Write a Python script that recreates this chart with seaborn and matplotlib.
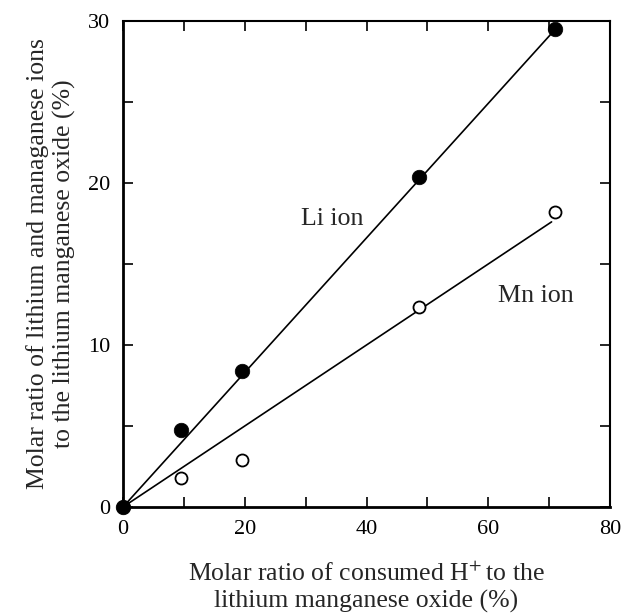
import matplotlib
matplotlib.use("Agg")
import matplotlib.pyplot as plt
from matplotlib.ticker import MultipleLocator, FixedLocator
import seaborn as sns
import pandas as pd

# data
x_h = [0, 9.6, 19.6, 48.6, 71.0]
li_ratio = [0, 4.75, 8.4, 20.4, 29.5]
mn_ratio = [0, 1.8, 2.9, 12.35, 18.2]
li_fit_x = [0, 70.8]
li_fit_y = [0, 29.4]
mn_fit_x = [0, 70.4]
mn_fit_y = [0, 17.6]
x_ticks = [0, 20, 40, 60, 80]
y_ticks = [0, 10, 20, 30]

sns.set_style("ticks")
plt.rcParams['font.family'] = ['Liberation Serif', 'DejaVu Serif']
plt.rcParams['mathtext.fontset'] = 'stix'

fig = plt.figure(figsize=(6.28, 6.15), dpi=100)
ax = fig.add_axes([123/628, 1 - 507/615, (610-123)/628, (507-21)/615])

fit_li = pd.DataFrame({"x": li_fit_x, "y": li_fit_y})
fit_mn = pd.DataFrame({"x": mn_fit_x, "y": mn_fit_y})
sns.lineplot(data=fit_li, x="x", y="y", ax=ax, color="black", lw=1.2, sort=False)
sns.lineplot(data=fit_mn, x="x", y="y", ax=ax, color="black", lw=1.2, sort=False)

pts_mn = pd.DataFrame({"x": x_h, "y": mn_ratio})
pts_li = pd.DataFrame({"x": x_h, "y": li_ratio})
sns.scatterplot(data=pts_mn, x="x", y="y", ax=ax, s=75, facecolor="white",
                edgecolor="black", linewidth=1.3, zorder=4, clip_on=False)
sns.scatterplot(data=pts_li, x="x", y="y", ax=ax, s=110, color="black",
                edgecolor="black", linewidth=0.5, zorder=5, clip_on=False)

ax.set_xlim(0, 80)
ax.set_ylim(0, 30)
ax.xaxis.set_major_locator(FixedLocator(x_ticks))
ax.xaxis.set_minor_locator(MultipleLocator(10))
ax.yaxis.set_major_locator(FixedLocator(y_ticks))
ax.yaxis.set_minor_locator(MultipleLocator(5))
for which in ("major", "minor"):
    ax.tick_params(axis="both", which=which, direction="in", length=7.5, width=1.2,
                   top=True, right=True, labelsize=16, color="black", labelcolor="black")
ax.tick_params(axis="x", which="major", pad=9)
ax.tick_params(axis="y", which="major", pad=9)

for s in ("left", "bottom"):
    ax.spines[s].set_linewidth(2.0)
for s in ("top", "right"):
    ax.spines[s].set_linewidth(1.5)
    ax.spines[s].set_visible(True)
for s in ax.spines.values():
    s.set_color("black")

ax.set_xlabel("Molar ratio of consumed H$^{+}\\!$ to the\nlithium manganese oxide (%)",
              fontsize=18.5, labelpad=17, linespacing=1.2)
ax.set_ylabel("Molar ratio of lithium and managanese ions\nto the lithium manganese oxide (%)",
              fontsize=18.5, labelpad=9, linespacing=1.2)

ax.text(34.3, 17.8, "Li ion", fontsize=18.7, ha="center", va="center")
ax.text(67.9, 13.0, "Mn ion", fontsize=18.7, ha="center", va="center")

fig.savefig("out.png", dpi=100)
